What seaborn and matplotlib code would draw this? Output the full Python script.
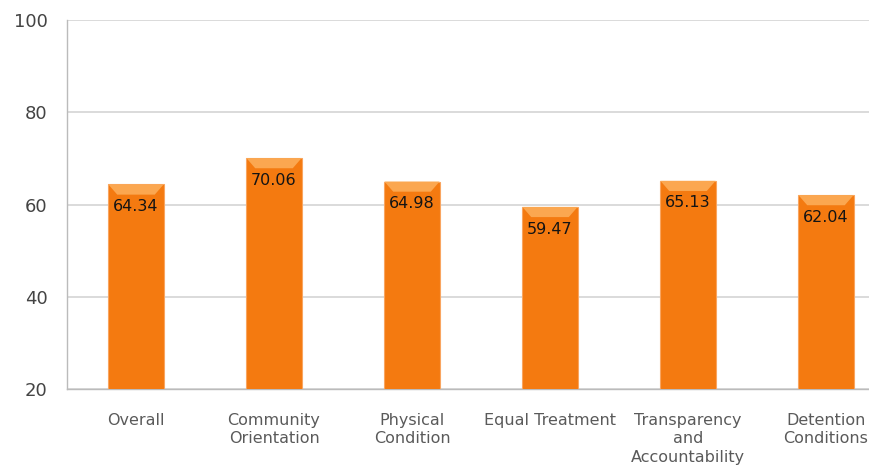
import matplotlib
matplotlib.use("Agg")
import matplotlib.pyplot as plt
import seaborn as sns
import pandas as pd
from matplotlib.patches import Polygon

categories = ["Overall", "Community\nOrientation", "Physical\nCondition",
              "Equal Treatment", "Transparency\nand\nAccountability", "Detention\nConditions"]
values = [64.34, 70.06, 64.98, 59.47, 65.13, 62.04]
labels = ["64.34", "70.06", "64.98", "59.47", "65.13", "62.04"]
yticks = [20, 40, 60, 80, 100]

df = pd.DataFrame({"cat": categories, "val": values})

sns.set_style("white")
plt.rcParams["font.family"] = ["DejaVu Sans"]

fig = plt.figure(figsize=(8.69, 4.68), dpi=100)
ax = fig.add_axes([67/869, 1-389/468, 828/869, 369/468])

sns.barplot(data=df, x="cat", y="val", color="#F47A10", width=0.4, ax=ax,
            edgecolor="#F9A560", linewidth=0.8, saturation=1, zorder=3)

ax.set_ylim(20, 100)
ax.set_xlim(-0.5, len(categories) - 0.5)
ax.set_yticks(yticks)
ax.set_yticklabels([str(t) for t in yticks], fontsize=13, color="#444444")
ax.set_xticks(range(len(categories)))
ax.set_xticklabels(categories, fontsize=11.5, color="#5A5A5A", linespacing=1.3)
ax.tick_params(axis="x", length=0, pad=17)
ax.tick_params(axis="y", length=5, color="#C4C4C4", pad=9)
ax.set_xlabel("")
ax.set_ylabel("")
ax.grid(axis="y", color="#D4D4D4", linewidth=1.2, zorder=0)
ax.set_axisbelow(True)
for s in ["top", "right"]:
    ax.spines[s].set_visible(False)
for s in ["left", "bottom"]:
    ax.spines[s].set_color("#BBBBBB")
    ax.spines[s].set_linewidth(1.0)

# category boundary ticks
ax.set_xticks([i + 0.5 for i in range(len(categories) - 1)], minor=True)
ax.tick_params(axis="x", which="minor", length=5, color="#BBBBBB", direction="out")

# bevel highlight on top of each bar + value labels
for p, lab in zip(ax.patches, labels):
    x0, w, h = p.get_x(), p.get_width(), p.get_height()
    top = p.get_y() + h
    inset = w * 0.16
    capdepth = 2.2
    poly = Polygon([(x0, top), (x0 + w, top), (x0 + w - inset, top - capdepth),
                    (x0 + inset, top - capdepth)], closed=True,
                   facecolor="#FBA750", edgecolor="none", zorder=4)
    ax.add_patch(poly)
    ax.text(x0 + w / 2, top - 4.8, lab, ha="center", va="center",
            fontsize=11.5, color="#141414", zorder=5)

fig.savefig("out.png", dpi=100)
